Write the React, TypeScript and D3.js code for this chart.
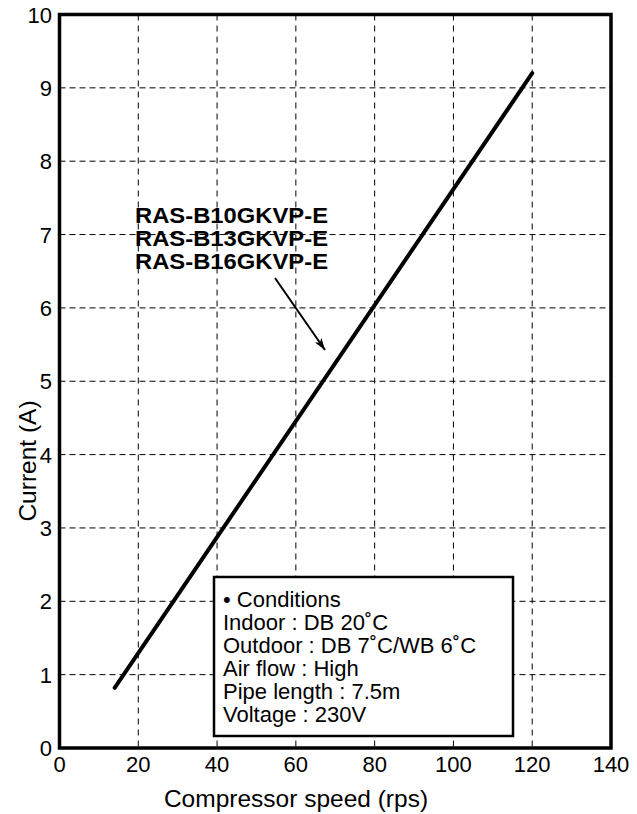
import React from "react";
import * as d3 from "d3";

const xTicks = [0, 20, 40, 60, 80, 100, 120, 140];
const yTicks = [0, 1, 2, 3, 4, 5, 6, 7, 8, 9, 10];
const speed = [14, 120];
const current = [0.82, 9.2];
const models = ["RAS-B10GKVP-E", "RAS-B13GKVP-E", "RAS-B16GKVP-E"];
const conditions = [
  "• Conditions",
  "Indoor : DB 20˚C",
  "Outdoor : DB 7˚C/WB 6˚C",
  "Air flow : High",
  "Pipe length : 7.5m",
  "Voltage : 230V",
];

const W = 637, H = 814;
const L = 59.5, R = 611, T = 14.5, B = 748;
const font = "'Liberation Sans', Arial, sans-serif";

export default function App() {
  const x = d3.scaleLinear().domain([0, 140]).range([L, R]);
  const y = d3.scaleLinear().domain([0, 10]).range([B, T]);
  const line = d3.line<number>().x((_, i) => x(speed[i])).y((d) => y(d));
  const pts = current;

  return (
    <svg width={W} height={H} style={{ position: "absolute", left: 0, top: 0, background: "#fff" }} fontFamily={font}>
      <defs>
        <marker id="ah" viewBox="0 0 12 8" refX="12" refY="4" markerWidth="12" markerHeight="8" markerUnits="userSpaceOnUse" orient="auto">
          <path d="M0,0 L12,4 L0,8 L3,4 Z" fill="#000" />
        </marker>
      </defs>
      {/* grid */}
      {yTicks.filter((t) => t > 0 && t < 10).map((t) => (
        <line key={"gy" + t} x1={L} x2={R} y1={y(t)} y2={y(t)} stroke="#000" strokeWidth={1} strokeDasharray="6,4" />
      ))}
      {xTicks.filter((t) => t > 0 && t < 140).map((t) => (
        <line key={"gx" + t} x1={x(t)} x2={x(t)} y1={T} y2={B} stroke="#000" strokeWidth={1} strokeDasharray="6,5" />
      ))}
      {/* frame */}
      <rect x={L} y={T} width={R - L} height={B - T} fill="none" stroke="#000" strokeWidth={3.5} />
      {/* data line */}
      <path d={line(pts) || ""} fill="none" stroke="#000" strokeWidth={4} strokeLinecap="round" />
      {/* model labels */}
      {models.map((m, i) => (
        <text key={m} x={135} y={223 + i * 23} fontSize={22} fontWeight="bold" textLength={193} lengthAdjust="spacingAndGlyphs">{m}</text>
      ))}
      <line x1={275} y1={278} x2={325} y2={350} stroke="#000" strokeWidth={2} markerEnd="url(#ah)" />
      {/* conditions box */}
      <rect x={214} y={577} width={299} height={159} fill="#fff" stroke="#000" strokeWidth={2.5} />
      {conditions.map((c, i) => (
        <text key={c} x={223} y={607 + i * 23} fontSize={22}>{c}</text>
      ))}
      {/* tick labels */}
      {yTicks.map((t) => (
        <text key={"ly" + t} x={52} y={y(t) + 8} fontSize={22} textAnchor="end">{t}</text>
      ))}
      {xTicks.map((t) => (
        <text key={"lx" + t} x={x(t)} y={772} fontSize={22} textAnchor="middle">{t}</text>
      ))}
      <text x={296} y={807} fontSize={24.5} textAnchor="middle">Compressor speed (rps)</text>
      <text transform={`translate(36,461) rotate(-90)`} fontSize={24.5} textAnchor="middle">Current (A)</text>
    </svg>
  );
}
